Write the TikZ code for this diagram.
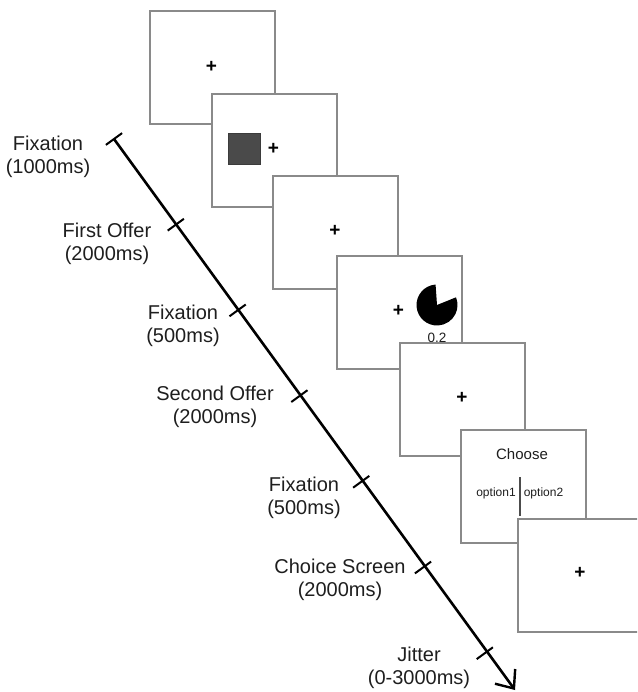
\documentclass[tikz,border=0pt]{standalone}
\usepackage{fontspec}
\setmainfont{Liberation Sans}
\usetikzlibrary{arrows.meta}
\definecolor{boxgray}{HTML}{8A8A8A}
\definecolor{labelgray}{HTML}{1E1E1E}
\definecolor{squaregray}{HTML}{4A4A4A}
\begin{document}
\begin{tikzpicture}[x=1pt,y=-1pt,
  screen/.style={draw=boxgray, line width=1.4pt, fill=white, minimum width=125pt, minimum height=113pt, inner sep=0pt},
  fixcross/.style={font=\fontsize{19}{19}\selectfont\bfseries, inner sep=0pt, text=black},
  lbl/.style={font=\fontsize{20}{23}\selectfont, align=center, text=labelgray, inner sep=0pt},
  smalltxt/.style={font=\fontsize{12}{12}\selectfont, text=labelgray, inner sep=0pt},
  tickmark/.style={line width=2pt, black},
  timeline/.style={line width=2.6pt, black, -{Straight Barb[length=15pt, width=25pt, line width=2.4pt]}}
]
\useasboundingbox (0,0) rectangle (637,692);
\clip (0,0) rectangle (637,692);

% screens
\node[screen] (s1) at (212.5,67.5) {};
\node[fixcross] (c1) at (211.5,66.5) {+};

\node[screen] (s2) at (274.5,150.5) {};
\node[fill=squaregray, draw=squaregray!80!black, line width=0.5pt, minimum width=32pt, minimum height=31pt, inner sep=0pt] (sq) at (244,148.5) {};
\node[fixcross] (c2) at (273.5,148.5) {+};

\node[screen] (s3) at (335.5,232.5) {};
\node[fixcross] (c3) at (335,230.5) {+};

\node[screen] (s4) at (399.5,312.5) {};
\node[fixcross] (c4) at (398.5,311) {+};
\begin{scope}[shift={(437,305)}, x=1pt, y=1pt]
  \fill[black] (0,0) -- (94:20.5) arc[start angle=94, end angle=382, radius=20.5] -- cycle;
\end{scope}
\node[smalltxt, font=\fontsize{13.5}{13.5}\selectfont] (p4) at (437,338) {0.2};

\node[screen] (s5) at (462.5,399.5) {};
\node[fixcross] (c5) at (462,398) {+};

\node[screen] (s6) at (523.5,486.5) {};
\node[smalltxt, font=\fontsize{15}{15}\selectfont] (ch) at (522,454) {Choose};
\node[smalltxt] (o1) at (496,493) {option1};
\node[smalltxt] (o2) at (543.5,493) {option2};
\coordinate (dvtop) at (520,477);
\coordinate (dvbot) at (520,516);
\draw[line width=1.4pt, draw=black!70] (dvtop) -- (dvbot);

\node[screen] (s7) at (580.5,575.5) {};
\node[fixcross] (c7) at (580,573) {+};

% timeline
\coordinate (t1) at (114,139);
\coordinate (t2) at (175.8,224.7);
\coordinate (t3) at (237.6,310.4);
\coordinate (t4) at (299.4,396.1);
\coordinate (t5) at (361.2,481.8);
\coordinate (t6) at (423.0,567.5);
\coordinate (t7) at (484.8,653.2);
\coordinate (tip) at (515,690);
\draw[timeline] (t1) -- (tip);
\foreach \t in {t1,t2,t3,t4,t5,t6,t7}{
  \draw[tickmark] (\t) ++(8.1,-5.9) -- ++(-16.2,11.8);
}

% labels
\node[lbl] (l1) at (48,156.5) {Fixation\\(1000ms)};
\node[lbl] (l2) at (107,244) {First Offer\\(2000ms)};
\node[lbl] (l3) at (183,326) {Fixation\\(500ms)};
\node[lbl] (l4) at (215,407) {Second Offer\\(2000ms)};
\node[lbl] (l5) at (304,497.5) {Fixation\\(500ms)};
\node[lbl] (l6) at (340,579.5) {Choice Screen\\(2000ms)};
\node[lbl] (l7) at (419,667.5) {Jitter\\(0-3000ms)};
\end{tikzpicture}
\end{document}
